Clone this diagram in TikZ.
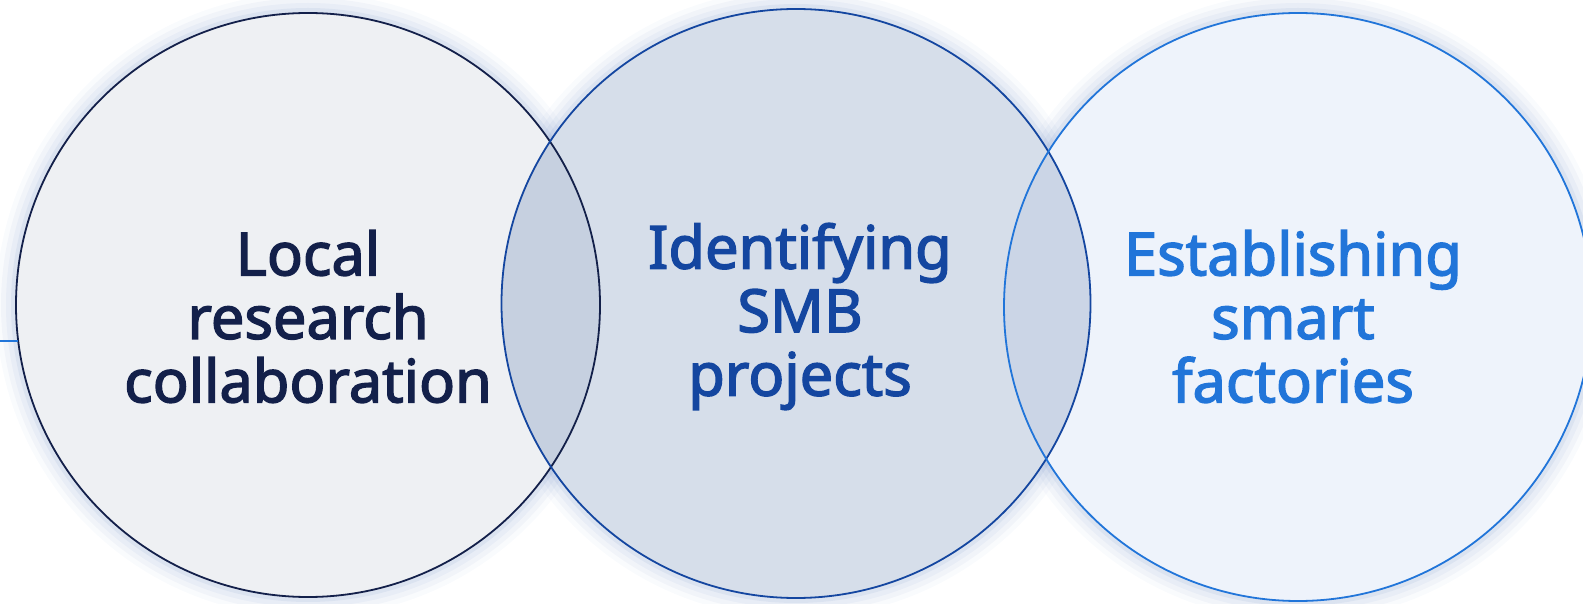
\documentclass[tikz,border=0pt]{standalone}
\usepackage{fontspec}
\setmainfont{Noto Sans}[AutoFakeBold=2.4]
\usetikzlibrary{calc}
\definecolor{navy}{HTML}{13204A}
\definecolor{midblue}{HTML}{1446A0}
\definecolor{brightblue}{HTML}{2175D9}
\definecolor{fillLeft}{HTML}{EEF0F3}
\definecolor{fillMid}{HTML}{D6DEEA}
\definecolor{fillRight}{HTML}{EEF3FB}
\definecolor{overlapA}{HTML}{C6D0E0}
\definecolor{overlapB}{HTML}{CBD5E6}
\tikzset{%
  % Specifications for style of nodes:
         base/.style = {circle, inner sep=0pt, outer sep=0pt},
   leftCircle/.style = {base, minimum size=584pt},
    midCircle/.style = {base, minimum size=589pt},
  rightCircle/.style = {base, minimum size=588pt},
    labelText/.style = {align=center, font=\fontsize{59.5}{63.5}\selectfont\bfseries},
}
\begin{document}
\begin{tikzpicture}[x=1pt, y=1pt]
  \useasboundingbox (0,0) rectangle (1583,603);
  % Specification of circles (position, etc.)
  \node (local)    [leftCircle]  at (308,298) {};
  \node (smb)      [midCircle]   at (796,299.5) {};
  \node (factory)  [rightCircle] at (1298,296) {};
  % soft glow behind the circles
  \foreach \c/\r in {local/292, smb/294.5, factory/294}{
    \foreach \d/\o in {20/0.025, 15/0.035, 10/0.045, 5/0.06}{
      \fill[midblue, opacity=\o] (\c.center) circle (\r+\d);
    }
  }
  % fills
  \fill[fillLeft]  (local.center)   circle (292);
  \fill[fillMid]   (smb.center)     circle (294.5);
  \fill[fillRight] (factory.center) circle (294);
  % overlap areas
  \begin{scope}
    \clip (local.center) circle (292);
    \fill[overlapA] (smb.center) circle (294.5);
  \end{scope}
  \begin{scope}
    \clip (smb.center) circle (294.5);
    \fill[overlapB] (factory.center) circle (294);
  \end{scope}
  % outlines on top
  \draw[navy, line width=1.8pt]       (local.center)   circle (292);
  \draw[midblue, line width=1.8pt]    (smb.center)     circle (294.5);
  \draw[brightblue, line width=1.8pt] (factory.center) circle (294);

  % labels
  \node (localText)   [labelText, text=navy]       at (308,286.5) {Local\\research\\collaboration};
  \node (smbText)     [labelText, text=midblue]    at (800,286.5) {Identifying\\SMB\\projects};
  \node (factoryText) [labelText, text=brightblue] at (1293,286.5) {Establishing\\smart\\factories};

  % short lead-in line at the left edge
  \coordinate (leadIn) at (0,262);
  \draw[brightblue, line width=1.2pt] (leadIn) -- ($(local.center)+(-289.6,-36)$);
\end{tikzpicture}
\end{document}
